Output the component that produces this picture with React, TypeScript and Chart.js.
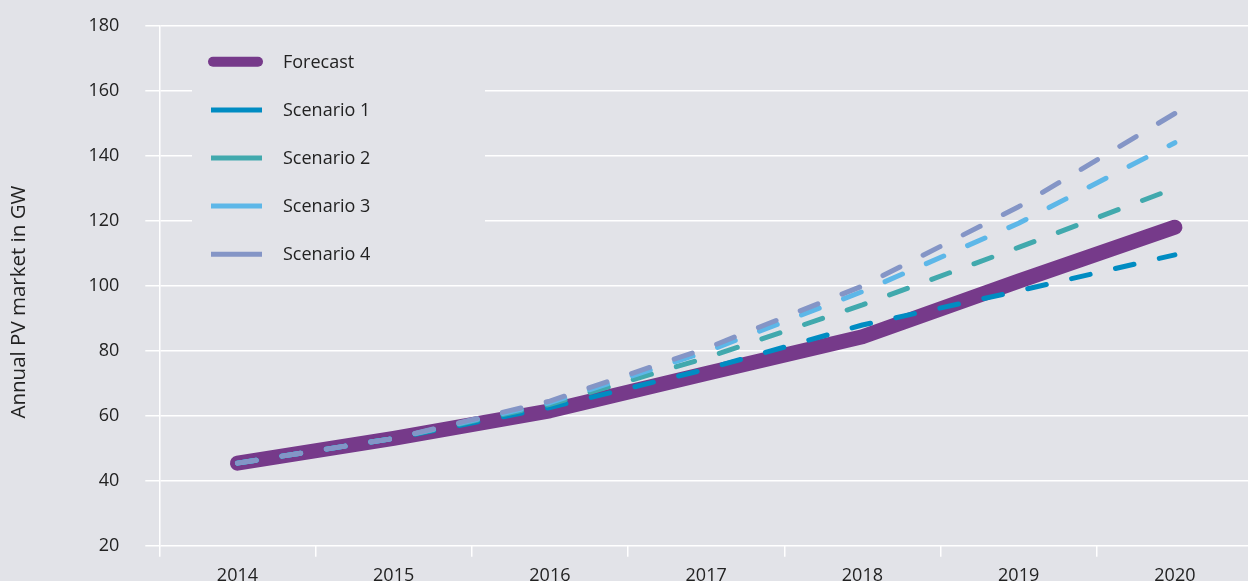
import React, { useEffect, useRef } from "react";
import { Chart, registerables } from "chart.js";

Chart.register(...registerables);

// ---- Data ----
const years = ["2014", "2015", "2016", "2017", "2018", "2019", "2020"];
const forecast = [45.4, 53, 61.5, 73, 84.3, 101.4, 118];
const scenario1 = [45.4, 53, 62.5, 74.3, 87.9, 98.4, 109.5];
const scenario2 = [45.4, 53, 63.5, 77.8, 94.1, 111.8, 130];
const scenario3 = [45.4, 53, 64, 79.7, 98.2, 119.2, 144];
const scenario4 = [45.4, 53, 64.5, 80.7, 99.9, 124.3, 153];
const seriesNames = ["Forecast", "Scenario 1", "Scenario 2", "Scenario 3", "Scenario 4"];
const yMin = 20;
const yMax = 180;
const yStep = 20;
const yAxisTitle = "Annual PV market in GW";

// ---- Styles ----
const BG = "#e2e3e8";
const TEXT = "#222222";
const FONT = "'Open Sans', 'Noto Sans', sans-serif";
const COLORS = ["#763a8a", "#008cc2", "#41a9ad", "#5db7e8", "#8495c6"];
const CANVAS_W = 1253;
const CANVAS_H = 600;

const bgAndLegend = {
  id: "bgAndLegend",
  beforeDraw(chart: any) {
    const ctx = chart.ctx;
    ctx.save();
    ctx.fillStyle = BG;
    ctx.fillRect(0, 0, chart.width, chart.height);
    ctx.restore();
  },
  beforeDatasetsDraw(chart: any) {
    const ctx = chart.ctx;
    ctx.save();
    ctx.fillStyle = BG;
    ctx.fillRect(192, 34, 293, 243);
    ctx.restore();
  },
  afterDraw(chart: any) {
    const ctx = chart.ctx;
    ctx.save();
    // legend
    const rowY0 = 61.8;
    const rowStep = 48.1;
    seriesNames.forEach((name, i) => {
      const y = rowY0 + i * rowStep;
      ctx.beginPath();
      ctx.strokeStyle = COLORS[i];
      if (i === 0) {
        ctx.lineWidth = 10;
        ctx.lineCap = "round";
        ctx.moveTo(213, y);
        ctx.lineTo(258, y);
      } else {
        ctx.lineWidth = 5;
        ctx.lineCap = "butt";
        ctx.moveTo(211, y);
        ctx.lineTo(262, y);
      }
      ctx.stroke();
      ctx.fillStyle = TEXT;
      ctx.font = `18px ${FONT}`;
      ctx.textAlign = "left";
      ctx.textBaseline = "middle";
      ctx.fillText(name, 283, y + 1);
    });
    // y axis title
    ctx.translate(19, 302);
    ctx.rotate(-Math.PI / 2);
    ctx.font = `20.5px ${FONT}`;
    ctx.fillStyle = TEXT;
    ctx.textAlign = "center";
    ctx.textBaseline = "middle";
    ctx.fillText(yAxisTitle, 0, 0);
    ctx.restore();
  },
};

export default function App() {
  const ref = useRef<HTMLCanvasElement | null>(null);

  useEffect(() => {
    if (!ref.current) return;
    const series = [forecast, scenario1, scenario2, scenario3, scenario4];
    const datasets = series.map((data, i) => ({
      label: seriesNames[i],
      data,
      borderColor: COLORS[i],
      backgroundColor: COLORS[i],
      borderWidth: i === 0 ? 15 : 5,
      borderDash: i === 0 ? [] : [19, 26],
      borderCapStyle: "round" as const,
      borderJoinStyle: "round" as const,
      pointRadius: 0,
      pointHoverRadius: 0,
      fill: false,
      tension: 0,
      order: 5 - i,
    }));

    const chart = new Chart(ref.current, {
      type: "line",
      data: { labels: years, datasets },
      plugins: [bgAndLegend],
      options: {
        animation: false,
        responsive: false,
        devicePixelRatio: 1,
        layout: { padding: { top: 25.7, right: 0, bottom: 0, left: 0 } },
        plugins: {
          legend: { display: false },
          tooltip: { enabled: false },
          title: { display: false },
        },
        scales: {
          x: {
            type: "category",
            offset: true,
            grid: {
              offset: true,
              drawOnChartArea: false,
              drawTicks: true,
              tickLength: 11,
              color: "#ffffff",
              lineWidth: 1.5,
            },
            border: { display: false },
            ticks: {
              color: TEXT,
              font: { family: FONT, size: 18 },
              padding: 8,
              maxRotation: 0,
              autoSkip: false,
            },
            afterFit: (s: any) => {
              s.height = CANVAS_H - 545.7;
            },
          },
          y: {
            min: yMin,
            max: yMax,
            ticks: {
              stepSize: yStep,
              color: TEXT,
              font: { family: FONT, size: 18 },
              padding: 26,
            },
            grid: {
              color: "#ffffff",
              lineWidth: 1.5,
              tickLength: 14,
              drawTicks: true,
            },
            border: { display: true, color: "#ffffff", width: 1.5 },
            afterFit: (s: any) => {
              s.width = 159.3;
              s.paddingTop = 0;
              s.paddingBottom = 0;
            },
          },
        },
      },
    });
    return () => chart.destroy();
  }, []);

  return (
    <div
      style={{
        position: "fixed",
        left: 0,
        top: 0,
        width: 1248,
        height: 581,
        overflow: "hidden",
        background: BG,
      }}
    >
      <canvas ref={ref} width={CANVAS_W} height={CANVAS_H} style={{ display: "block" }} />
    </div>
  );
}
